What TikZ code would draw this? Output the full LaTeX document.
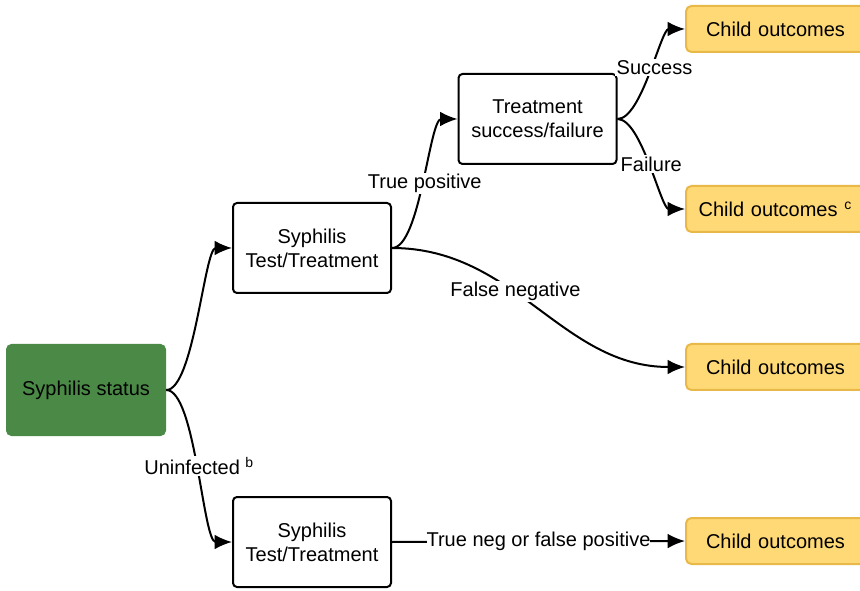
\documentclass[tikz,border=0pt]{standalone}
\usepackage{fontspec}
\setmainfont{Liberation Sans}
\usetikzlibrary{arrows.meta}
\definecolor{statusgreen}{RGB}{74,138,70}
\definecolor{outfill}{RGB}{255,217,118}
\definecolor{outline}{RGB}{232,184,72}
\tikzset{
  box/.style={draw=black,line width=1.5pt,rounded corners=3pt,fill=white,align=center,minimum width=118.5pt,minimum height=67.5pt},
  statusbox/.style={fill=statusgreen,rounded corners=4pt,minimum width=120pt,minimum height=69pt},
  outbox/.style={draw=outline,line width=1.5pt,fill=outfill,rounded corners=4pt,minimum width=140pt,minimum height=34.5pt,text width=126pt},
  lbl/.style={fill=white,inner sep=1pt},
  link/.style={->,line width=1.5pt}
}
\begin{document}
\begin{tikzpicture}[>={Latex[length=13pt,width=11pt]},x=0.75pt,y=-0.75pt,
  every node/.style={font=\fontsize{15}{18}\selectfont}]
    % Canvas
    \clip (0,0) rectangle (860,591);

    % Nodes
    \node[statusbox] (status) at (86,390) {Syphilis status};
    \node[box] (testtop) at (312,248) {Syphilis\\Test/Treatment};
    \node[box] (testbot) at (312,542) {Syphilis\\Test/Treatment};
    \node[box] (treat) at (537.5,119) {Treatment\\success/failure};
    \node[outbox,anchor=west] (outa) at (685,29) {\hspace*{8pt}Child outcomes};
    \node[outbox,anchor=west] (outb) at (685,209) {\hspace*{2.5pt}Child outcomes \textsuperscript{c}};
    \node[outbox,anchor=west] (outc) at (685,367) {\hspace*{8pt}Child outcomes};
    \node[outbox,anchor=west] (outd) at (685,541) {\hspace*{8pt}Child outcomes};

    % Connectors
    \draw[link] (status.east) to[out=0,in=180,looseness=0.45] (testtop.west);
    \draw[link] (status.east) to[out=0,in=180,looseness=0.45] node[lbl,pos=0.5] {Uninfected \textsuperscript{b}} (testbot.west);
    \draw[link] (testtop.east) to[out=0,in=180,looseness=0.5] node[lbl,pos=0.5] {True positive} (treat.west);
    \draw[link] (testtop.east) to[out=0,in=180] node[lbl,pos=0.41] {False negative} (outc.west);
    \draw[link] (treat.east) to[out=0,in=180,looseness=0.55] node[lbl,pos=0.55] {Success} (outa.west);
    \draw[link] (treat.east) to[out=0,in=180,looseness=0.55] node[lbl,pos=0.5] {Failure} (outb.west);
    \draw[link] (testbot.east) -- node[lbl,inner sep=0pt] {True neg or false positive} (outd.west);
\end{tikzpicture}
\end{document}
